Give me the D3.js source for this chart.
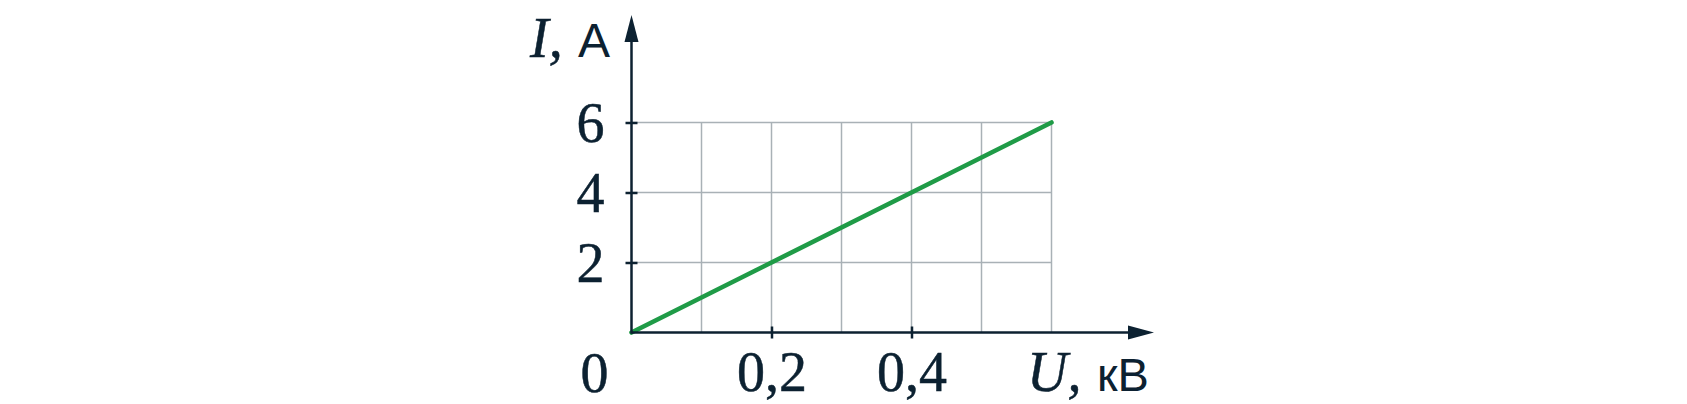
<!DOCTYPE html>
<html>
<head>
<meta charset="utf-8">
<script src="https://cdn.jsdelivr.net/npm/d3@7"></script>
<style>
html,body{margin:0;padding:0;background:#fff;}
svg{display:block;}
</style>
</head>
<body>
<svg id="chart" width="1687" height="404"></svg>
<script>
// Data
const voltage = [0, 0.6];          // U, кВ
const current = [0, 6];            // I, A
const xTicks = [0.2, 0.4];
const xTickLabels = ["0,2", "0,4"];
const yTicks = [2, 4, 6];
const yTickLabels = ["2", "4", "6"];
const xGrid = [0.1, 0.2, 0.3, 0.4, 0.5, 0.6];
const yGrid = [2, 4, 6];

const ink = "#0c2131";
const gridCol = "#a9b1b6";
const green = "#1f9b47";
const serif = "'Liberation Serif', 'Times New Roman', serif";
const sans = "'Liberation Sans', Arial, sans-serif";

const svg = d3.select("#chart");
const x = d3.scaleLinear().domain([0, 0.6]).range([631.5, 1051.5]);
const y = d3.scaleLinear().domain([0, 6]).range([332.5, 122.5]);

// grid
const g = svg.append("g");
g.selectAll("line.v").data(xGrid).join("line")
  .attr("x1", d => x(d)).attr("x2", d => x(d))
  .attr("y1", y(0)).attr("y2", y(6))
  .attr("stroke", gridCol).attr("stroke-width", 1.5);
g.selectAll("line.h").data(yGrid).join("line")
  .attr("x1", x(0)).attr("x2", x(0.6))
  .attr("y1", d => y(d)).attr("y2", d => y(d))
  .attr("stroke", gridCol).attr("stroke-width", 1.5);

// data line
svg.append("path")
  .datum(voltage.map((v, i) => [v, current[i]]))
  .attr("d", d3.line().x(d => x(d[0])).y(d => y(d[1])))
  .attr("fill", "none").attr("stroke", green)
  .attr("stroke-width", 4.6).attr("stroke-linecap", "round");

// axes lines
svg.append("line").attr("x1", x(0)).attr("x2", 1130)
  .attr("y1", y(0)).attr("y2", y(0)).attr("stroke", ink).attr("stroke-width", 2.5);
svg.append("path").attr("d", `M1154,${y(0)} L1128,${y(0)-7} L1128,${y(0)+7} Z`).attr("fill", ink);
svg.append("line").attr("x1", x(0)).attr("x2", x(0))
  .attr("y1", y(0) + 1.2).attr("y2", 40).attr("stroke", ink).attr("stroke-width", 2.5);
svg.append("path").attr("d", `M${x(0)},15 L${x(0)-7},42 L${x(0)+7},42 Z`).attr("fill", ink);

// x axis ticks + labels
const xAxis = d3.axisBottom(x).tickValues(xTicks)
  .tickFormat((d, i) => xTickLabels[i]).tickSizeInner(6).tickSizeOuter(0).tickPadding(52);
const xg = svg.append("g").attr("transform", `translate(0,${y(0)})`).call(xAxis);
xg.select(".domain").remove();
xg.selectAll(".tick line").attr("y1", -6).attr("y2", 6).attr("stroke", ink).attr("stroke-width", 2.5);
xg.selectAll(".tick text").attr("fill", ink).attr("stroke", ink).attr("stroke-width", 0.5)
  .attr("font-family", serif).attr("font-size", 56)
  .attr("dy", 0).attr("y", 58.5);

// y axis ticks + labels
const yAxis = d3.axisLeft(y).tickValues(yTicks)
  .tickFormat((d, i) => yTickLabels[i]).tickSizeInner(6).tickSizeOuter(0).tickPadding(26);
const yg = svg.append("g").attr("transform", `translate(${x(0)},0)`).call(yAxis);
yg.select(".domain").remove();
yg.selectAll(".tick line").attr("x1", -6).attr("x2", 6).attr("stroke", ink).attr("stroke-width", 2.5);
yg.selectAll(".tick text").attr("fill", ink).attr("stroke", ink).attr("stroke-width", 0.5)
  .attr("font-family", serif).attr("font-size", 56)
  .attr("dy", 0).attr("y", 19).attr("x", -27);

// origin label
svg.append("text").attr("x", 594.5).attr("y", 391.5).attr("text-anchor", "middle")
  .attr("fill", ink).attr("stroke", ink).attr("stroke-width", 0.5)
  .attr("font-family", serif).attr("font-size", 56).text("0");

// axis titles
const yt = svg.append("text").attr("y", 56.7).attr("fill", ink);
yt.append("tspan").attr("x", 530).attr("font-family", serif).attr("stroke", ink).attr("stroke-width", 0.5)
  .attr("font-style", "italic").attr("font-size", 56).text("I,");
yt.append("tspan").attr("x", 578).attr("font-family", sans)
  .attr("font-size", 48).text("A");

const xt = svg.append("text").attr("y", 391).attr("fill", ink);
xt.append("tspan").attr("x", 1027).attr("font-family", serif).attr("stroke", ink).attr("stroke-width", 0.5)
  .attr("font-style", "italic").attr("font-size", 56).text("U,");
xt.append("tspan").attr("x", 1097).attr("font-family", sans)
  .attr("font-size", 47).text("кВ");
</script>
</body>
</html>
